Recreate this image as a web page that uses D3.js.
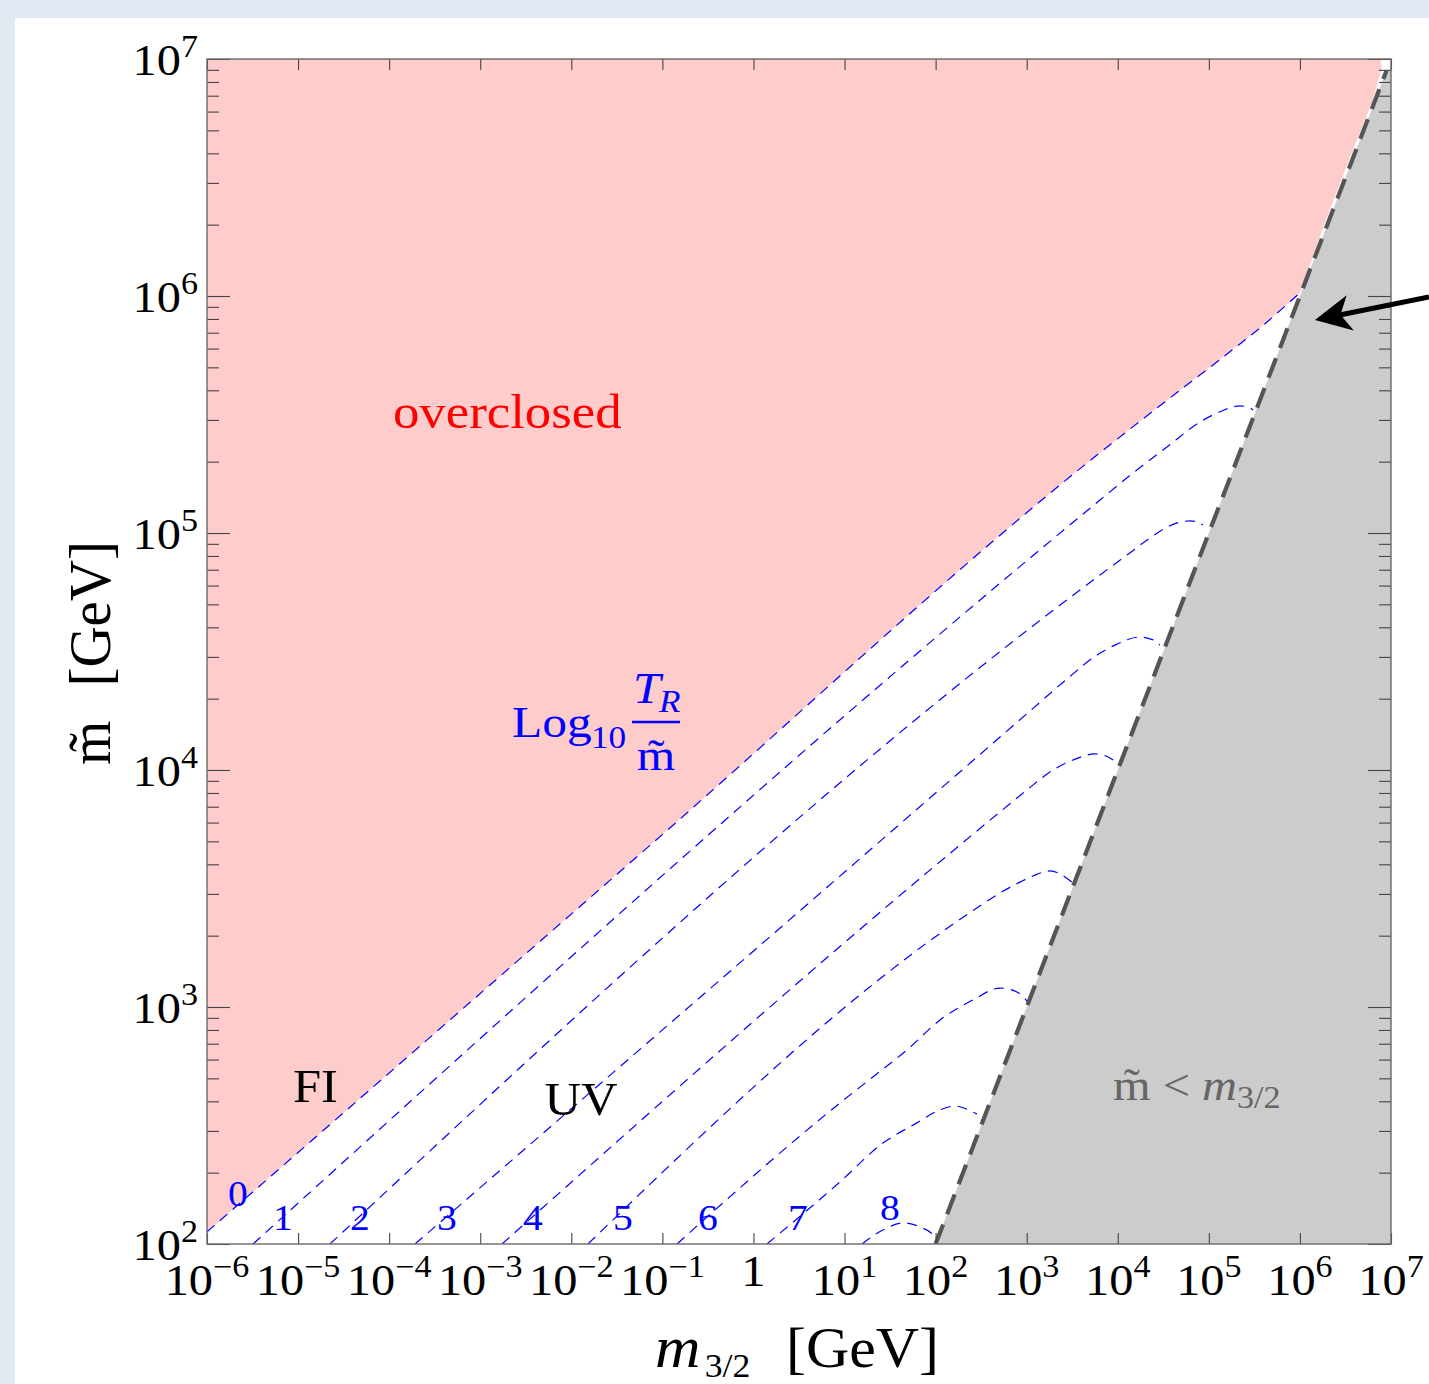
<!DOCTYPE html>
<html>
<head>
<meta charset="utf-8">
<script src="https://cdn.jsdelivr.net/npm/d3@7"></script>
<style>
  html, body { margin: 0; padding: 0; background: #e2e9f2; }
  svg { display: block; }
  text { font-family: "Liberation Serif", "Times New Roman", Times, serif; }
</style>
</head>
<body>
<svg id="chart" width="1429" height="1384"></svg>
<script>
// ---------- axes: decades of log10 ----------
const xDecades = [-6, -5, -4, -3, -2, -1, 0, 1, 2, 3, 4, 5, 6, 7];       // m_{3/2} [GeV]
const yDecades = [2, 3, 4, 5, 6, 7];                                      // m~ [GeV]
const yMinorMult = [2, 3, 4, 5, 6, 7, 8, 9];

// ---------- contours of log10(T_R / m~), points as [log10 m3/2, log10 m~] ----------
const contourLevels = [0, 1, 2, 3, 4, 5, 6, 7, 8];
const contour0 = [[-6, 2.051], [-1.136, 3.682], [3.805, 5.339], [4.540, 5.560], [5.265, 5.775], [5.638, 5.890], [5.850, 5.962], [6.0, 6.013]];
const contour1 = [[-5.495, 2], [3.805, 5.139], [4.167, 5.253], [4.540, 5.363], [4.902, 5.468], [5.089, 5.506], [5.342, 5.536], [5.430, 5.532], [5.485, 5.519]];
const contour2 = [[-4.650, 2], [3.805, 4.823], [4.101, 4.907], [4.354, 4.979], [4.540, 5.025], [4.793, 5.051], [4.902, 5.042], [4.935, 5.034]];
const contour3 = [[-3.716, 2], [2.707, 4.139], [3.069, 4.260], [3.442, 4.384], [3.772, 4.485], [3.969, 4.527], [4.244, 4.561], [4.387, 4.549], [4.463, 4.527]];
const contour4 = [[-2.761, 2], [2.707, 3.823], [3.003, 3.916], [3.289, 4.000], [3.508, 4.042], [3.750, 4.068], [3.914, 4.051], [3.991, 4.030]];
const contour5 = [[-1.817, 2], [2.377, 3.398], [2.707, 3.481], [2.926, 3.527], [3.069, 3.553], [3.256, 3.574], [3.420, 3.549], [3.497, 3.527]];
const contour6 = [[-0.840, 2], [0.950, 2.595], [1.312, 2.705], [1.686, 2.819], [2.048, 2.945], [2.410, 3.030], [2.707, 3.080], [2.893, 3.063], [3.014, 3.021]];
const contour7 = [[0.148, 2], [0.950, 2.262], [1.422, 2.426], [1.795, 2.511], [2.048, 2.566], [2.212, 2.582], [2.410, 2.557], [2.454, 2.549]];
const contour8 = [[1.191, 2], [1.422, 2.059], [1.642, 2.089], [1.828, 2.072], [1.993, 2.030], [2.010, 2.015]];
const contours = [contour0, contour1, contour2, contour3, contour4, contour5, contour6, contour7, contour8];
// label anchor of each contour value: [log10 m3/2 (centre), log10 m~ (baseline)]
const contourLabelPos = [[-5.66, 2.160], [-5.166, 2.059], [-4.32, 2.059], [-3.365, 2.059], [-2.421, 2.059],
                         [-1.433, 2.059], [-0.499, 2.059], [0.489, 2.059], [1.499, 2.101]];

// upper edge of the overclosed region, from the top of contour 0 to the top of the frame
const overclosedEdge = [[6.0, 6.013], [6.297, 6.333], [6.582, 6.616], [6.802, 6.827], [6.901, 6.966], [6.879, 7.0]];
// the line m~ = m3/2 and the excluded region below it
const equalMassLine = [[2, 2], [6.95, 6.95]];
const excludedRegion = [[2, 2], [7, 2], [7, 6.954], [6.954, 6.954]];

// ---------- layout ----------
const W = 1429, H = 1384;
const plot = { left: 207, right: 1391, top: 59, bottom: 1244 };
const K = 1.1;                        // horizontal proportion of the serif lettering

const svg = d3.select("#chart");
svg.append("rect").attr("width", W).attr("height", H).attr("fill", "#e2e9f2");
svg.append("rect").attr("x", 15).attr("y", 18).attr("width", W - 15).attr("height", H - 18).attr("fill", "#ffffff");

const x = d3.scaleLog().domain([1e-6, 1e7]).range([plot.left, plot.right]);
const y = d3.scaleLog().domain([1e2, 1e7]).range([plot.bottom, plot.top]);
const X = e => x(Math.pow(10, e));
const Y = e => y(Math.pow(10, e));

svg.append("clipPath").attr("id", "plotClip").append("rect")
  .attr("x", plot.left).attr("y", plot.top)
  .attr("width", plot.right - plot.left).attr("height", plot.bottom - plot.top);
const area = svg.append("g").attr("clip-path", "url(#plotClip)");

const curveLine = d3.line().x(d => X(d[0])).y(d => Y(d[1])).curve(d3.curveMonotoneX);
const straight = d3.line().x(d => X(d[0])).y(d => Y(d[1]));

// overclosed region: above contour 0
const pinkPath = curveLine(contour0) + overclosedEdge.slice(1).map(d => `L${X(d[0])},${Y(d[1])}`).join("")
  + `L${X(-6)},${Y(7)}Z`;
area.append("path").attr("d", pinkPath).attr("fill", "#ffcccc");

// m~ < m3/2 region
area.append("path").attr("d", straight(excludedRegion) + "Z").attr("fill", "#cccccc");

// contours
area.selectAll("path.contour").data(contours).join("path")
  .attr("class", "contour")
  .attr("d", d => curveLine(d))
  .attr("fill", "none").attr("stroke", "#0000ff").attr("stroke-width", 1.2)
  .attr("stroke-dasharray", "10,7");

// m~ = m3/2 boundary
area.append("path").attr("d", straight(equalMassLine))
  .attr("fill", "none").attr("stroke", "#555555").attr("stroke-width", 4.2)
  .attr("stroke-dasharray", "21,11");

// ---------- frame & ticks ----------
function styleAxis(g) {
  g.select(".domain").remove();
  g.selectAll(".tick line").attr("stroke", "#444").attr("stroke-width", 1.1);
}
const xTickVals = xDecades.map(e => Math.pow(10, e));
const yMajorVals = yDecades.map(e => Math.pow(10, e));
const yMinorVals = yDecades.slice(0, -1).flatMap(e => yMinorMult.map(m => m * Math.pow(10, e)));

svg.append("g").attr("transform", `translate(0,${plot.bottom})`)
  .call(d3.axisBottom(x).tickValues(xTickVals).tickSize(-11).tickFormat(() => "")).call(styleAxis);
svg.append("g").attr("transform", `translate(0,${plot.top})`)
  .call(d3.axisTop(x).tickValues(xTickVals).tickSize(-11).tickFormat(() => "")).call(styleAxis);
[["left", plot.left, d3.axisLeft], ["right", plot.right, d3.axisRight]].forEach(([side, pos, ax]) => {
  svg.append("g").attr("transform", `translate(${pos},0)`)
    .call(ax(y).tickValues(yMajorVals).tickSize(-23).tickFormat(() => "")).call(styleAxis);
  svg.append("g").attr("transform", `translate(${pos},0)`)
    .call(ax(y).tickValues(yMinorVals).tickSize(-12).tickFormat(() => "")).call(styleAxis);
});
svg.append("rect").attr("x", plot.left).attr("y", plot.top)
  .attr("width", plot.right - plot.left).attr("height", plot.bottom - plot.top)
  .attr("fill", "none").attr("stroke", "#6a6a6a").attr("stroke-width", 1.4);

// ---------- text helpers ----------
function place(parent, px, py, k = K) {
  return parent.append("g").attr("transform", `translate(${px},${py}) scale(${k},1)`);
}
function txt(parent, px, py, str, o = {}) {
  return place(parent, px, py, o.k ?? K).append("text")
    .attr("text-anchor", o.anchor || "start")
    .attr("font-size", o.size || 44)
    .attr("font-style", o.italic ? "italic" : "normal")
    .attr("fill", o.fill || "#000")
    .text(str);
}
function power(parent, px, py, exp, anchor, size, supSize, rise) {
  const t = place(parent, px, py).append("text").attr("text-anchor", anchor).attr("font-size", size);
  t.append("tspan").text("10");
  t.append("tspan").attr("font-size", supSize).attr("dy", -rise).text(exp < 0 ? "\u2212" + (-exp) : String(exp));
  return t;
}
const MT = "m\u0303";   // m with tilde accent

// ---------- tick labels ----------
xDecades.forEach(e => {
  if (e === 0) txt(svg, X(e), 1286, "1", { anchor: "middle", size: 44 });
  else power(svg, X(e), 1295, e, "middle", 44, 31, 18);
});
yDecades.forEach(e => power(svg, 198, Y(e) + 16, e, "end", 44, 31, 18));

// ---------- axis titles ----------
{
  const t = place(svg, 797, 1367, 1.05).append("text").attr("text-anchor", "middle").attr("font-size", 57);
  t.append("tspan").attr("font-style", "italic").attr("font-size", 60).text("m");
  t.append("tspan").attr("font-size", 34).attr("dx", 4).attr("dy", 10).text("3/2");
  t.append("tspan").attr("dx", 34).attr("dy", -10).text("[GeV]");
}
{
  const g = svg.append("g").attr("transform", `translate(110,653) scale(1.05,1) rotate(-90)`);
  const t = g.append("text").attr("text-anchor", "middle").attr("font-size", 57);
  t.append("tspan").text(MT);
  t.append("tspan").attr("dx", 34).text("[GeV]");
}

// ---------- annotations ----------
txt(svg, X(-3.958), Y(5.443), "overclosed", { size: 48, fill: "#ff0000" });
txt(svg, X(-4.809), Y(2.599), "FI", { anchor: "middle", size: 46 });
txt(svg, X(-1.894), Y(2.544), "UV", { anchor: "middle", size: 46 });

// Log10 T_R / m~
{
  const ax = X(-2.651), ay = Y(4.139), blue = "#0000ff";
  const g = svg.append("g").attr("transform", `translate(${ax},${ay})`);
  txt(g, 0, 0, "Log", { size: 45, fill: blue });
  txt(g, 79, 11, "10", { size: 32, fill: blue });
  txt(g, 121, -34, "T", { size: 45, italic: true, fill: blue });
  txt(g, 147, -25, "R", { size: 32, italic: true, fill: blue });
  g.append("line").attr("x1", 120).attr("x2", 168).attr("y1", -15).attr("y2", -15)
    .attr("stroke", blue).attr("stroke-width", 2.5);
  txt(g, 144, 33, MT, { anchor: "middle", size: 45, fill: blue });
}

// contour values
contourLabelPos.forEach((p, i) =>
  txt(svg, X(p[0]), Y(p[1]), String(contourLevels[i]), { anchor: "middle", size: 36, fill: "#0000ff" }));

// m~ < m3/2
{
  const grey = "#666666";
  const t = place(svg, X(3.947), Y(2.608)).append("text").attr("font-size", 44).attr("fill", grey);
  t.append("tspan").text(MT + " < ");
  t.append("tspan").attr("font-style", "italic").text("m");
  t.append("tspan").attr("font-size", 31).attr("dy", 8).text("3/2");
}

// arrow pointing at the top of the allowed region
{
  const tail = [X(7.417), Y(5.996)], tip = [X(6.165), Y(5.899)];
  const dx = tail[0] - tip[0], dy = tail[1] - tip[1], L = Math.hypot(dx, dy);
  const ang = Math.atan2(dy, dx) * 180 / Math.PI;
  const g = svg.append("g").attr("transform", `translate(${tip[0]},${tip[1]}) rotate(${ang})`);
  g.append("line").attr("x1", 24).attr("x2", L).attr("y1", 0).attr("y2", 0)
    .attr("stroke", "#000").attr("stroke-width", 5);
  g.append("path").attr("d", "M0,0 L36,-18 L26,0 L36,18 Z").attr("fill", "#000");
}
</script>
</body>
</html>
